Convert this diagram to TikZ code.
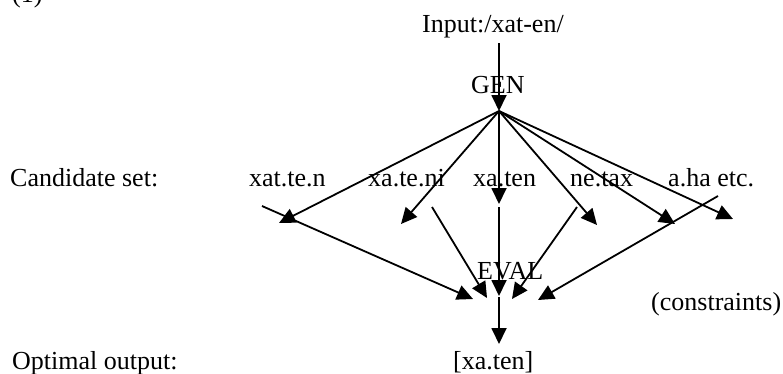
\documentclass[tikz,border=0pt]{standalone}
\usepackage{fontspec}
\setmainfont{Liberation Serif}
\usetikzlibrary{arrows.meta}
\begin{document}
\begin{tikzpicture}[x=1pt,y=-1pt,
  lbl/.style={inner sep=0pt,anchor=base west,font=\fontsize{26}{30}\selectfont},
  conn/.style={line width=1.8pt,-{Triangle[length=16pt,width=15pt]}}]
\useasboundingbox (0,0) rectangle (783,373);
% labels
\node[lbl] (num) at (12,2) {(1)};
\node[lbl] (input) at (422,32) {Input:/xat-en/};
\node[lbl] (gen) at (471,93) {GEN};
\node[lbl] (cand) at (10,186) {Candidate set:};
\node[lbl] (c1) at (249,186) {xat.te.n};
\node[lbl] (c2) at (368,186) {xa.te.ni};
\node[lbl] (c3) at (473,186) {xa.ten};
\node[lbl] (c4) at (570,186) {ne.tax};
\node[lbl] (c5) at (668,186) {a.ha etc.};
\node[lbl] (eval) at (477,279) {EVAL};
\node[lbl] (cons) at (651,310) {(constraints)};
\node[lbl] (opt) at (12,369) {Optimal output:};
\node[lbl] (out) at (453,369) {[xa.ten]};
% connector points
\coordinate (inTop) at (499,43);
\coordinate (apex) at (499,111);
\coordinate (a1) at (279,223);
\coordinate (a2) at (401,224);
\coordinate (a3) at (499,204);
\coordinate (a4) at (597,225);
\coordinate (a5) at (675,224);
\coordinate (a6) at (733,219);
\coordinate (b1s) at (262,206);
\coordinate (b2s) at (432,207);
\coordinate (b3s) at (499,207);
\coordinate (b4s) at (577,207);
\coordinate (b5s) at (718,196);
\coordinate (b1e) at (473,299);
\coordinate (b2e) at (487,298);
\coordinate (b3e) at (499,296);
\coordinate (b4e) at (512,299);
\coordinate (b5e) at (538,300);
\coordinate (evalOut) at (499,297);
\coordinate (outTop) at (499,344);
% connectors
\draw[conn] (inTop) -- (apex);
\foreach \e in {a1,a2,a3,a4,a5,a6} \draw[conn] (apex) -- (\e);
\draw[conn] (b1s) -- (b1e);
\draw[conn] (b2s) -- (b2e);
\draw[conn] (b3s) -- (b3e);
\draw[conn] (b4s) -- (b4e);
\draw[conn] (b5s) -- (b5e);
\draw[conn] (evalOut) -- (outTop);
\end{tikzpicture}
\end{document}
